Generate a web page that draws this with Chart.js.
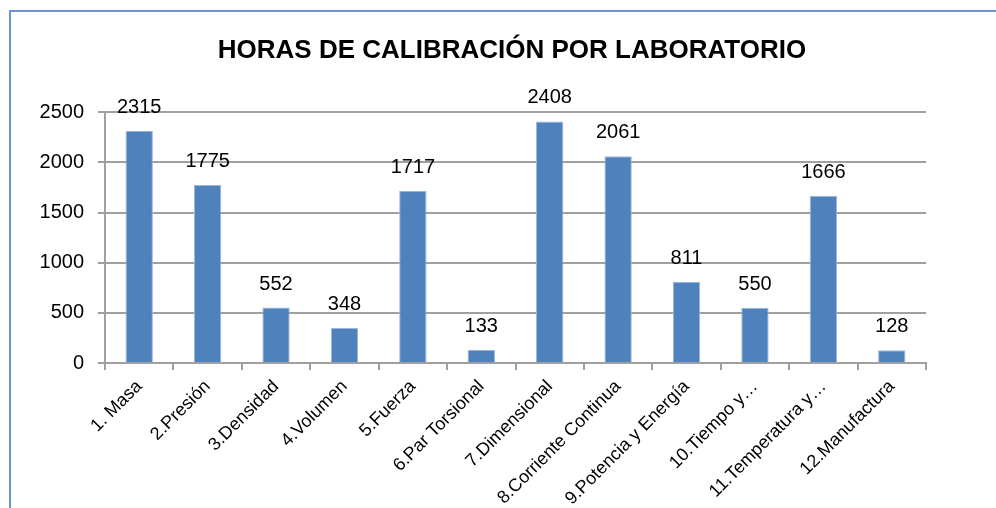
<!DOCTYPE html>
<html>
<head>
<meta charset="utf-8">
<script src="https://cdn.jsdelivr.net/npm/chart.js@4.4.1/dist/chart.umd.min.js"></script>
<style>
  html, body { margin: 0; padding: 0; background: #fff; overflow: hidden; }
  #wrap { position: relative; width: 996px; height: 508px; }
  #marco { position: absolute; left: 9px; top: 10px; width: 1200px; height: 800px;
           border-left: 2px solid #6a96cf; border-top: 2px solid #6a96cf; }
  #grafico { position: absolute; left: 0; top: 0; }
</style>
</head>
<body>
<div id="wrap">
  <div id="marco"></div>
  <canvas id="grafico" width="996" height="508"></canvas>
</div>
<script>
// Datos del gráfico
const laboratorios = [
    "1. Masa", "2.Presión", "3.Densidad", "4.Volumen", "5.Fuerza", "6.Par Torsional",
    "7.Dimensional", "8.Corriente Continua", "9.Potencia y Energía", "10.Tiempo y…",
    "11.Temperatura y…", "12.Manufactura"
];
const horas = [2315, 1775, 552, 348, 1717, 133, 2408, 2061, 811, 550, 1666, 128];
const ticksY = [0, 500, 1000, 1500, 2000, 2500];

const titulo = "HORAS DE CALIBRACIÓN POR LABORATORIO";

Chart.defaults.font.family = "'Liberation Sans', Arial, sans-serif";
Chart.defaults.color = "#000";

// Etiquetas de valor encima de cada barra
const etiquetasValor = {
    id: "etiquetasValor",
    afterDatasetsDraw(chart) {
        const ctx = chart.ctx;
        const meta = chart.getDatasetMeta(0);
        ctx.save();
        ctx.font = "20px 'Liberation Sans', Arial, sans-serif";
        ctx.fillStyle = "#000";
        ctx.textAlign = "center";
        ctx.textBaseline = "alphabetic";
        meta.data.forEach(function (bar, i) {
            ctx.fillText(String(horas[i]), bar.x, bar.y - 18);
        });
        ctx.restore();
    }
};

const colorEje = "#a0a0a0";

var ctxGrafico = document.getElementById("grafico").getContext("2d");
var chartHoras = new Chart(ctxGrafico, {
    type: "bar",
    data: {
        labels: laboratorios,
        datasets: [{
            label: "Horas",
            data: horas,
            yAxisID: "y",
            backgroundColor: "#4f81bd",
            borderColor: "#9bb7dc",
            borderWidth: 1,
            categoryPercentage: 1.0,
            barPercentage: 0.4
        }]
    },
    options: {
        responsive: false,
        animation: false,
        layout: { padding: { left: 40, right: 12, top: 21, bottom: 0 } },
        plugins: {
            legend: { display: false },
            tooltip: { enabled: false },
            title: {
                display: true,
                text: titulo,
                color: "#000",
                font: { size: 26, weight: "bold" },
                padding: { top: 14, bottom: 46 }
            }
        },
        scales: {
            x: {
                grid: {
                    display: true,
                    drawOnChartArea: false,
                    drawTicks: true,
                    tickLength: 7,
                    color: colorEje,
                    lineWidth: 2
                },
                border: { display: true, color: colorEje, width: 2 },
                ticks: {
                    autoSkip: false,
                    maxRotation: 45,
                    minRotation: 45,
                    padding: 6,
                    font: { size: 18 },
                    color: "#000"
                },
                afterFit(scale) { scale.height = 145; }
            },
            y: {
                min: 0,
                max: 2500,
                afterBuildTicks(scale) {
                    scale.ticks = ticksY.map(v => ({ value: v }));
                },
                grid: {
                    color: colorEje,
                    lineWidth: 2,
                    tickLength: 7
                },
                border: { display: true, color: colorEje, width: 2 },
                ticks: {
                    padding: 14,
                    font: { size: 20 },
                    color: "#000",
                    callback: v => String(v)
                },
                afterFit(scale) { scale.width = 65; }
            },
            // eje vacío a la derecha, solo para dejar el margen
            derecha: {
                position: "right",
                display: true,
                grid: { display: false, drawTicks: false },
                border: { display: false },
                ticks: { display: false },
                afterFit(scale) { scale.width = 58; }
            }
        }
    },
    plugins: [etiquetasValor]
});
</script>
</body>
</html>
